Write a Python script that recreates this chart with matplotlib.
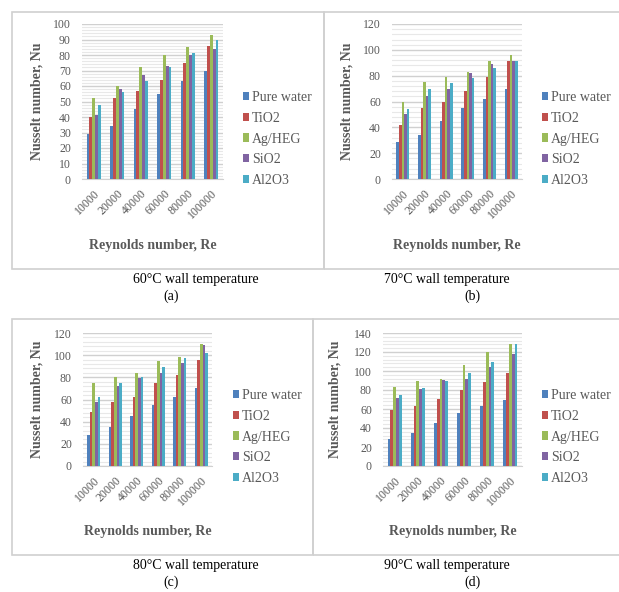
import numpy as np
import matplotlib
matplotlib.use('Agg')
import matplotlib.pyplot as plt
from matplotlib.patches import Rectangle

plt.rcParams['font.family'] = ['Liberation Serif', 'DejaVu Serif']

# Data
reynolds = ['10000', '20000', '40000', '60000', '80000', '100000']
fluids = ['Pure water', 'TiO2', 'Ag/HEG', 'SiO2', 'Al2O3']
colors = ['#4F81BD', '#C0504D', '#9BBB59', '#8064A2', '#4BACC6']

# 60 C wall temperature
nu_60_water = [29, 34, 45, 55, 63, 70]
nu_60_tio2 = [40, 52, 57, 64, 75, 86]
nu_60_aghEG = [52, 60, 72, 80, 85, 93]
nu_60_sio2 = [41, 58, 67, 73, 80, 84]
nu_60_al2o3 = [48, 56, 63, 72, 81, 90]

# 70 C wall temperature
nu_70_water = [29, 34, 45, 55, 62, 70]
nu_70_tio2 = [42, 55, 60, 68, 79, 91]
nu_70_aghEG = [60, 75, 79, 83, 91, 96]
nu_70_sio2 = [50, 64, 70, 82, 89, 91]
nu_70_al2o3 = [54, 70, 74, 78, 86, 91]

# 80 C wall temperature
nu_80_water = [28, 35, 45, 55, 62, 70]
nu_80_tio2 = [49, 58, 62, 75, 82, 96]
nu_80_aghEG = [75, 80, 84, 95, 98, 110]
nu_80_sio2 = [58, 72, 79, 84, 93, 109]
nu_80_al2o3 = [62, 75, 80, 89, 97, 102]

# 90 C wall temperature
nu_90_water = [28, 35, 45, 56, 63, 70]
nu_90_tio2 = [59, 63, 71, 80, 88, 98]
nu_90_aghEG = [83, 90, 92, 106, 120, 128]
nu_90_sio2 = [72, 81, 91, 92, 104, 118]
nu_90_al2o3 = [75, 82, 89, 98, 110, 128]

W, H = 619, 592
fig = plt.figure(figsize=(W / 100, H / 100), dpi=100)
txt = '#595959'


def fx(x):
    return x / W


def fy(y):
    return 1 - y / H


def panel(box, axbox, series, ymax, ystep, minor, ylab_x, legx, legy, cap_x, let_x, caption, letter):
    bx0, by0, bx1, by1 = box
    fig.patches.append(Rectangle((fx(bx0), fy(by1)), (bx1 - bx0) / W, (by1 - by0) / H,
                                 transform=fig.transFigure, fill=False,
                                 edgecolor='#d0d0d0', linewidth=1.2))
    x0, y0, x1, y1 = axbox
    ax = fig.add_axes([fx(x0), fy(y1), (x1 - x0) / W, (y1 - y0) / H])
    x = np.arange(len(reynolds))
    bw = 0.122
    for i, (vals, c, name) in enumerate(zip(series, colors, fluids)):
        ax.bar(x + (i - 2) * bw, vals, bw, color=c, label=name, zorder=3)
    ax.set_ylim(0, ymax)
    ax.set_xlim(-0.5, len(reynolds) - 0.5)
    ax.set_yticks(np.arange(0, ymax + 1, ystep))
    ax.set_yticks(np.arange(0, ymax + 0.1, minor), minor=True)
    ax.grid(axis='y', which='major', color='#d0d0d0', linewidth=1.0, zorder=0)
    ax.grid(axis='y', which='minor', color='#e8e8e8', linewidth=0.8, zorder=0)
    ax.set_xticks(x)
    ax.set_xticklabels(reynolds, rotation=45, ha='right', rotation_mode='anchor')
    ax.tick_params(axis='both', which='both', length=0, labelsize=8.5, labelcolor=txt)
    ax.tick_params(axis='y', pad=8)
    ax.tick_params(axis='x', pad=6)
    for s in ['top', 'right', 'left']:
        ax.spines[s].set_visible(False)
    ax.spines['bottom'].set_color('#d0d0d0')
    ax.set_xlabel('Reynolds number, Re', fontsize=10, fontweight='bold', color=txt)
    ax.set_ylabel('Nusselt number, Nu', fontsize=10, fontweight='bold', color=txt)
    ax.xaxis.set_label_coords(fx((x0 + x1) / 2), fy(y1 + 66), transform=fig.transFigure)
    ax.xaxis.label.set_va('center')
    ax.yaxis.set_label_coords(fx(ylab_x), fy((y0 + y1) / 2), transform=fig.transFigure)
    ax.yaxis.label.set_va('center')
    ax.legend(loc='center left', bbox_to_anchor=(fx(legx), fy(legy)),
              bbox_transform=fig.transFigure, frameon=False, fontsize=10,
              labelcolor=txt, handlelength=0.45, handleheight=0.55,
              handletextpad=0.2, labelspacing=0.55, borderaxespad=0, borderpad=0)
    fig.text(fx(cap_x), fy(by1 + 10), caption, ha='center', va='center', fontsize=10)
    fig.text(fx(let_x), fy(by1 + 27), letter, ha='center', va='center', fontsize=10)
    return ax


panel((12, 12, 324, 269), (82, 24, 223, 179),
      [nu_60_water, nu_60_tio2, nu_60_aghEG, nu_60_sio2, nu_60_al2o3],
      100, 10, 2, 37, 243, 139, 196, 171, '60°C wall temperature', '(a)')
panel((324, 12, 640, 269), (392, 24, 522, 179),
      [nu_70_water, nu_70_tio2, nu_70_aghEG, nu_70_sio2, nu_70_al2o3],
      120, 20, 4, 347, 542, 139, 447, 472, '70°C wall temperature', '(b)')
panel((12, 319, 313, 555), (83, 333, 212, 466),
      [nu_80_water, nu_80_tio2, nu_80_aghEG, nu_80_sio2, nu_80_al2o3],
      120, 20, 4, 37, 233, 437, 196, 171, '80°C wall temperature', '(c)')
panel((313, 319, 640, 555), (383, 333, 522, 466),
      [nu_90_water, nu_90_tio2, nu_90_aghEG, nu_90_sio2, nu_90_al2o3],
      140, 20, 4, 335, 542, 437, 447, 472, '90°C wall temperature', '(d)')

fig.savefig('out.png', dpi=100)
